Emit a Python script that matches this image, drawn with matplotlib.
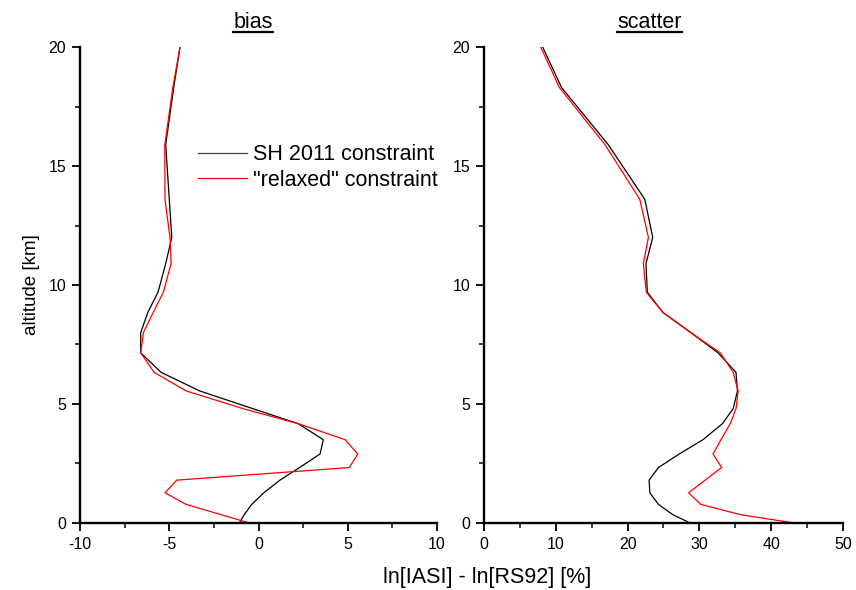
import matplotlib
matplotlib.use("Agg")
import matplotlib.pyplot as plt
from matplotlib.ticker import MultipleLocator
from matplotlib.lines import Line2D

plt.rcParams['font.family'] = ['Liberation Sans', 'DejaVu Sans']
plt.rcParams['axes.unicode_minus'] = False

altitude = [0, 0.35, 0.78, 1.27, 1.8, 2.33, 2.9, 3.5, 4.17, 4.8, 5.55, 6.33,
            7.15, 8.0, 8.85, 9.7, 10.9, 12.0, 13.6, 15.9, 18.3, 20]

bias_sh2011 = [-1.07, -0.8, -0.38, 0.3, 1.2, 2.3, 3.45, 3.63, 2.23, -0.3, -3.3, -5.46,
               -6.6, -6.6, -6.2, -5.63, -5.2, -4.86, -5.0, -5.2, -4.75, -4.4]
bias_relaxed = [-0.52, -2.1, -4.06, -5.24, -4.58, 5.09, 5.56, 4.85, 2.23, -0.85, -4.06, -5.85,
                -6.6, -6.45, -5.9, -5.33, -4.9, -4.96, -5.24, -5.25, -4.8, -4.4]

scatter_sh2011 = [28.7, 26.3, 24.3, 23.1, 23.0, 24.3, 27.2, 30.5, 33.2, 34.7, 35.3, 35.1,
                  32.6, 28.8, 24.9, 22.75, 22.56, 23.5, 22.4, 17.3, 10.8, 8.17]
scatter_relaxed = [43.2, 35.7, 30.2, 28.5, 30.8, 33.1, 31.9, 33.0, 34.3, 35.1, 35.4, 34.7,
                   32.9, 28.8, 24.9, 22.6, 22.2, 22.9, 21.7, 16.85, 10.5, 7.9]

labels = ['SH 2011 constraint', '"relaxed" constraint']
titles = ['bias', 'scatter']

fig = plt.figure(figsize=(8.56, 5.9), dpi=100)
ax1 = fig.add_axes([0.0935, 0.1136, 0.417, 0.8067])
ax2 = fig.add_axes([0.5654, 0.1136, 0.4194, 0.8067])

ax1.plot(bias_sh2011, altitude, color='black', lw=0.9, label=labels[0])
ax1.plot(bias_relaxed, altitude, color='red', lw=0.9, label=labels[1])
ax2.plot(scatter_sh2011, altitude, color='black', lw=0.9)
ax2.plot(scatter_relaxed, altitude, color='red', lw=0.9)

ax1.set_xlim(-10, 10)
ax2.set_xlim(0, 50)
for ax in (ax1, ax2):
    ax.set_ylim(0, 20)
    ax.spines['top'].set_visible(False)
    ax.spines['right'].set_visible(False)
    ax.spines['left'].set_linewidth(1.7)
    ax.spines['bottom'].set_linewidth(1.7)
    ax.yaxis.set_major_locator(MultipleLocator(5))
    ax.yaxis.set_minor_locator(MultipleLocator(2.5))
    ax.tick_params(which='major', direction='out', length=6, width=1.3, labelsize=11.5, pad=4)
    ax.tick_params(which='minor', direction='out', length=3.6, width=1.1)
ax1.xaxis.set_major_locator(MultipleLocator(5))
ax1.xaxis.set_minor_locator(MultipleLocator(2.5))
ax2.xaxis.set_major_locator(MultipleLocator(10))
ax2.xaxis.set_minor_locator(MultipleLocator(5))

title_x = [0.2956, 0.7588]
title_texts = []
for tx, t in zip(title_x, titles):
    title_texts.append(fig.text(tx, 1 - 28 / 590, t, fontsize=15.5, ha='center', va='baseline'))

ax1.set_ylabel('altitude [km]', fontsize=13.5, labelpad=6)
fig.text(0.5695, 1 - 577 / 590, 'ln[IASI] - ln[RS92] [%]', fontsize=15.5, ha='center', va='center')

leg = ax1.legend(loc='center left', bbox_to_anchor=(0.3305, 0.747), frameon=False, fontsize=15.5,
                 handlelength=2.28, handletextpad=0.28, borderpad=0, borderaxespad=0,
                 labelspacing=0.22)
leg.get_lines()[0].set_color('#444444')

# underline titles
fig.canvas.draw()
renderer = fig.canvas.get_renderer()
for tt in title_texts:
    bb = tt.get_window_extent(renderer).transformed(fig.transFigure.inverted())
    y = 1 - 31.5 / 590
    fig.add_artist(Line2D([bb.x0, bb.x1], [y, y], color='black', lw=1.6,
                          transform=fig.transFigure))

fig.savefig('out.png', dpi=100)
